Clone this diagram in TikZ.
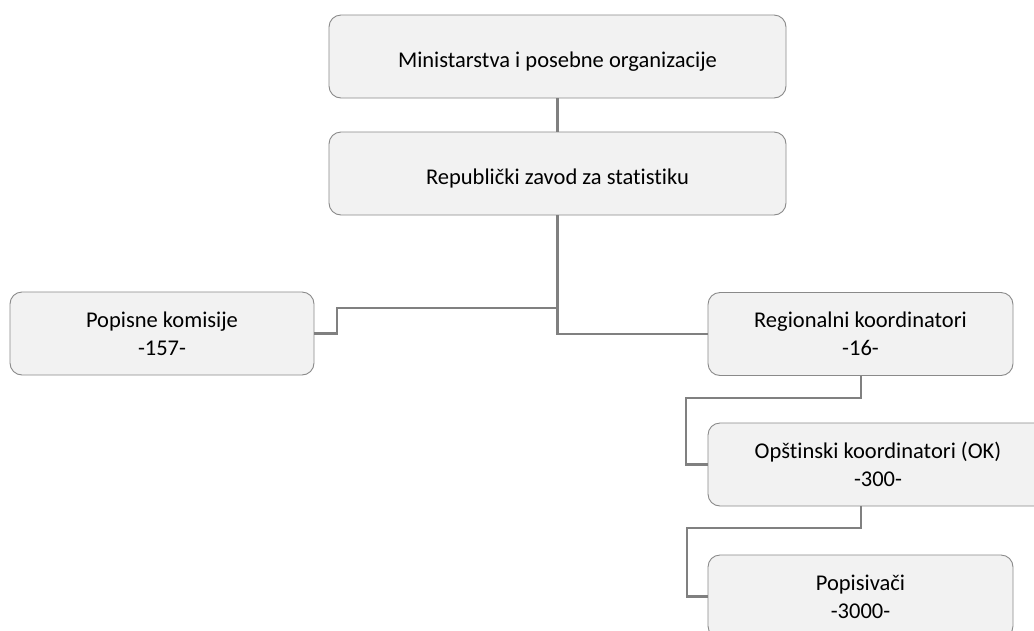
\documentclass[tikz,border=0pt]{standalone}
\usepackage{fontspec}
\setmainfont{Carlito}[Ligatures=NoCommon]
\definecolor{boxfill}{HTML}{F2F2F2}
\definecolor{boxline}{HTML}{8A8A8A}
\definecolor{conn}{HTML}{808080}
\begin{document}
\begin{tikzpicture}[x=1pt,y=-1pt,
  orgbox/.style={draw=boxline, line width=0.9pt, fill=boxfill, rounded corners=12pt,
    minimum height=83pt, inner sep=0pt, align=center,
    font=\fontsize{22.5}{28}\selectfont},
  oneline/.style={text height=27pt, text depth=5pt},
  link/.style={draw=conn, line width=2.6pt}]
\useasboundingbox (0,0) rectangle (1034,630);
\clip (0,0) rectangle (1034,630);
\fill[white] (0,0) rectangle (1034,630);
\node[orgbox, oneline, minimum width=457pt] (min) at (557.5,56.5) {Ministarstva i posebne organizacije};
\node[orgbox, oneline, minimum width=457pt] (rzs) at (557.5,173.5) {Republički zavod za statistiku};
\node[orgbox, minimum width=304pt] (pk) at (162,333.5) {Popisne komisije\\-157-};
\node[orgbox, minimum width=305pt] (rk) at (860.5,334) {Regionalni koordinatori\\-16-};
\node[orgbox, minimum width=340pt] (ok) at (878,464.5) {Opštinski koordinatori (OK)\\-300-};
\node[orgbox, minimum width=305pt] (pop) at (860.5,596.5) {Popisivači\\-3000-};
\coordinate (j1) at (557,308);
\coordinate (j2) at (337,308);
\coordinate (j3) at (686,398);
\coordinate (j4) at (687,528);
\draw[link] (min.south) -- (rzs.north);
\draw[link] (rzs.south) -- (rzs.south |- rk.west) -- (rk.west);
\draw[link] (j1) -- (j2) -- (j2 |- pk.east) -- (pk.east);
\draw[link] (rk.south -| 861,0) -- (861,398) -- (j3) -- (j3 |- ok.west) -- (ok.west);
\draw[link] (861,506) -- (861,528) -- (j4) -- (j4 |- pop.west) -- (pop.west);
\end{tikzpicture}
\end{document}
